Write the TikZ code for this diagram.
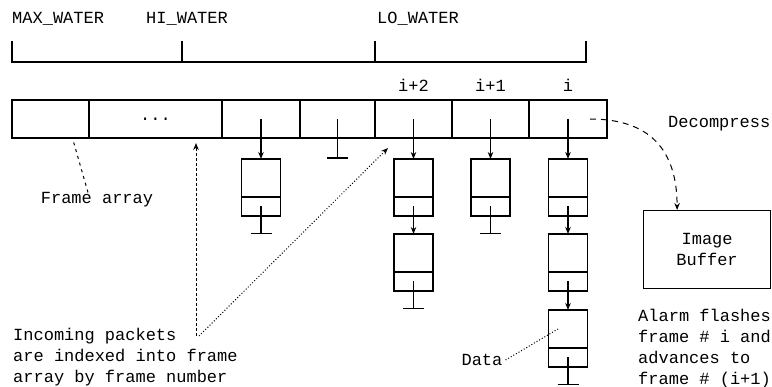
\documentclass[tikz,border=0pt]{standalone}
\usepackage{fontspec}
\newfontfamily\framefont{Liberation Mono}
\usetikzlibrary{positioning, arrows.meta, calc}

\begin{document}
\begin{tikzpicture}[
  x=1pt, y=-1pt,
  >={Stealth[length=7pt, width=5.5pt]},
  every node/.style={font=\framefont\fontsize{17}{21}\selectfont, inner sep=0pt},
  cell/.style  = {draw, line width=1.2pt, outer sep=0pt, minimum height=38pt},
  datum/.style = {draw, line width=1.2pt, outer sep=0pt, minimum width=39pt, minimum height=38pt},
  link/.style  = {draw, line width=1.2pt, outer sep=0pt, minimum width=39pt, minimum height=19pt},
  ptr/.style   = {->, line width=1.2pt},
  wline/.style = {line width=1.2pt},
  note/.style  = {align=left, anchor=north west},
  dec/.style   = {->, line width=1pt, dash pattern=on 6pt off 5pt},
  fdash/.style = {line width=1pt, dash pattern=on 3pt off 4pt},
  vdash/.style = {->, line width=1pt, dash pattern=on 3pt off 2pt},
  dots/.style  = {->, line width=1pt, dotted},
  ddots/.style = {line width=1pt, dotted},
]
  \useasboundingbox (0,0) rectangle (772,387);

  % water marks
  \node[anchor=west] (maxw) at (12,19)  {MAX\_WATER};
  \node[anchor=west] (hiw)  at (146,19) {HI\_WATER};
  \node[anchor=west] (low)  at (377,19) {LO\_WATER};
  \draw[wline] (12,41) |- (586,62) -- (586,41);
  \foreach \x in {182,375}
    \draw[wline] (\x,41) -- (\x,62);

  % frame array
  \node[cell, minimum width=77pt, anchor=north west] (c1) at (12,100) {};
  \node[cell, minimum width=133pt, right=0pt of c1] (c2) {...};
  \node[cell, minimum width=78pt, right=0pt of c2]  (c3) {};
  \node[cell, minimum width=75pt, right=0pt of c3]  (c4) {};
  \node[cell, minimum width=77pt, right=0pt of c4]  (c5) {};
  \node[cell, minimum width=77pt, right=0pt of c5]  (c6) {};
  \node[cell, minimum width=78pt, right=0pt of c6]  (c7) {};
  \node[above=8pt of c5] (n5) {i+2};
  \node[above=8pt of c6] (n6) {i+1};
  \node[above=8pt of c7] (n7) {i};

  % packet lists
  \node[datum, below=21pt of c3]  (d3a) {};
  \node[link,  below=0pt of d3a]  (l3a) {};
  \node[datum, below=21pt of c5]  (d5a) {};
  \node[link,  below=0pt of d5a]  (l5a) {};
  \node[datum, below=18pt of l5a] (d5b) {};
  \node[link,  below=0pt of d5b]  (l5b) {};
  \node[datum, below=21pt of c6]  (d6a) {};
  \node[link,  below=0pt of d6a]  (l6a) {};
  \node[datum, below=21pt of c7]  (d7a) {};
  \node[link,  below=0pt of d7a]  (l7a) {};
  \node[datum, below=18pt of l7a] (d7b) {};
  \node[link,  below=0pt of d7b]  (l7b) {};
  \node[datum, below=19pt of l7b] (d7c) {};
  \node[link,  below=0pt of d7c]  (l7c) {};

  \draw[ptr] (c3.center)  -- (d3a.north);
  \draw[ptr] (c5.center)  -- (d5a.north);
  \draw[ptr] (l5a.center) -- (d5b.north);
  \draw[ptr] (c6.center)  -- (d6a.north);
  \draw[ptr] (c7.center)  -- (d7a.north);
  \draw[ptr] (l7a.center) -- (d7b.north);
  \draw[ptr] (l7b.center) -- (d7c.north);
  % null pointers
  \foreach \n/\l in {c4/39, l3a/27, l5b/27, l6a/27, l7c/27}
    \draw[wline] (\n.center) -- ++(0,\l) ++(-10.5,0) -- ++(21,0);

  % image buffer
  \node[draw, line width=1.2pt, minimum width=127pt, minimum height=78pt,
        align=center, anchor=north west] (buf) at (643,210) {Image\\Buffer};
  \node[anchor=west] (declbl) at (668,124) {Decompress};
  \coordinate (decout) at (590,119);
  \coordinate (bufin) at ([xshift=-30pt]buf.north);
  \draw[dec] (decout) .. controls (650,119) and (677,150) .. (bufin);
  \node[note] (alarm) at (638,309) {Alarm flashes\\frame \# i and\\advances to\\frame \# (i+1)};

  % annotations
  \node (frlbl) at (97,200) {Frame array};
  \coordinate (fa) at (73,140);
  \draw[fdash] ([xshift=-9pt]frlbl.north) -- (fa);
  \node[note] (inc) at (13,328) {Incoming packets\\are indexed into frame\\array by frame number};
  \coordinate (incv) at (196,336);
  \coordinate (incd) at (199,336);
  \coordinate (c2in) at (196,143);
  \coordinate (c5in) at (388,148);
  \draw[vdash] (incv) -- (c2in);
  \draw[dots]  (incd) -- (c5in);
  \node (datalbl) at (482,360) {Data};
  \draw[ddots] ([xshift=3pt]datalbl.east) -- ([xshift=-10pt]d7c.center);
\end{tikzpicture}
\end{document}
